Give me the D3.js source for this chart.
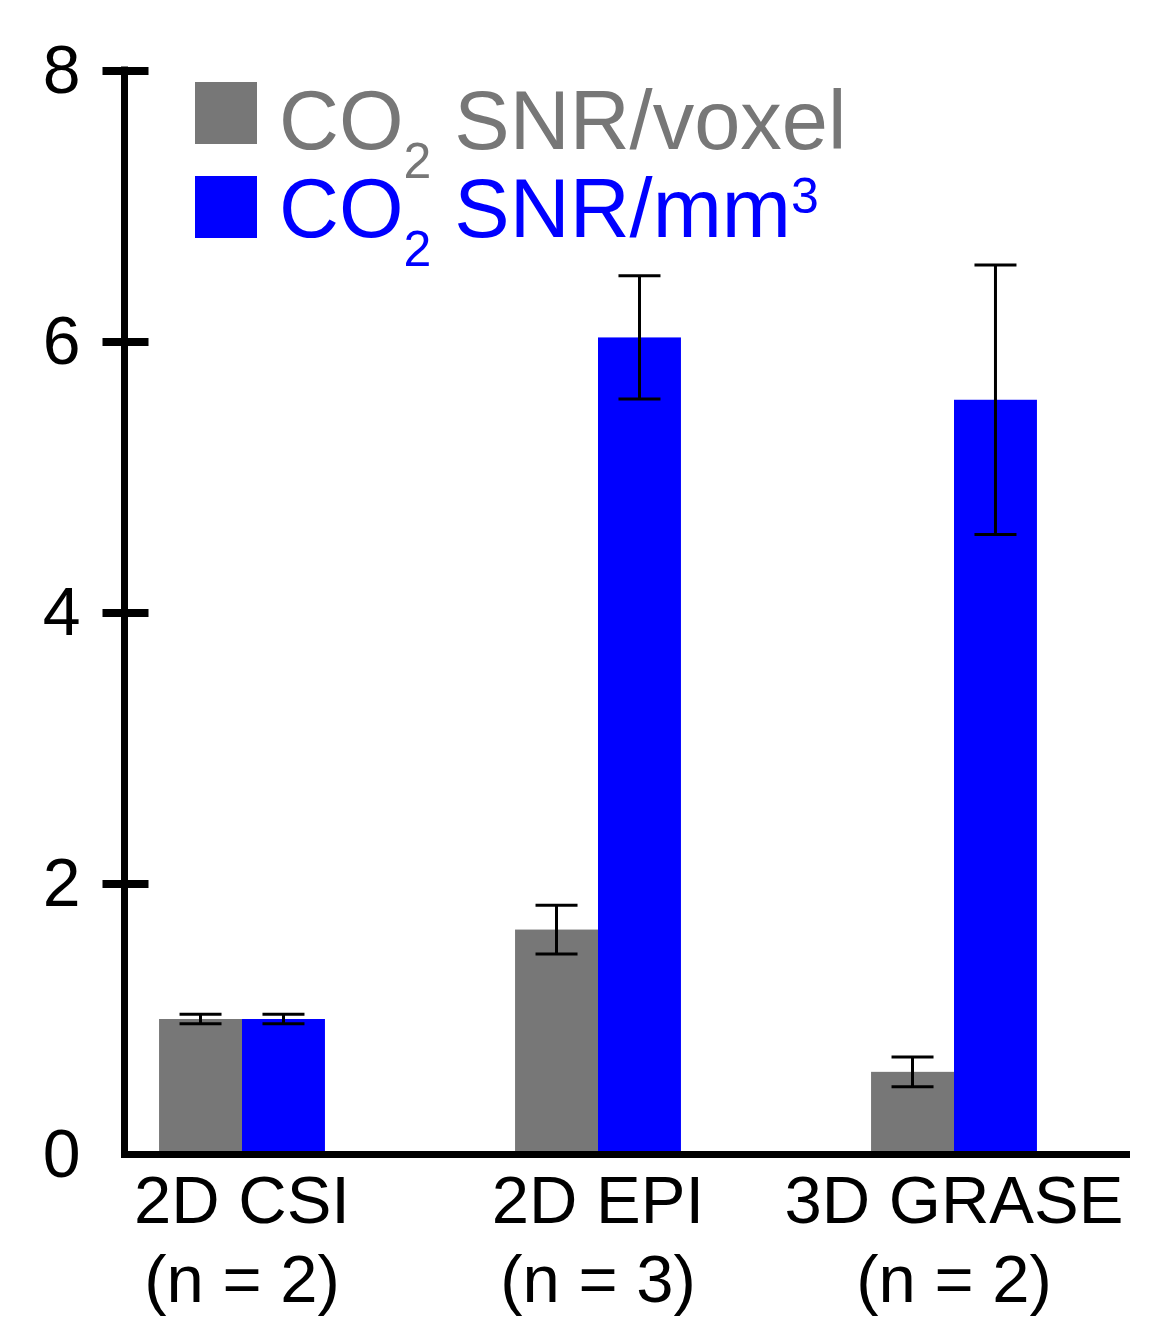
<!DOCTYPE html>
<html>
<head>
<meta charset="utf-8">
<script src="https://cdn.jsdelivr.net/npm/d3@7"></script>
<style>
  body { margin: 0; background: #fff; }
  text { font-family: "Liberation Sans", Arial, sans-serif; }
</style>
</head>
<body>
<svg id="chart" width="1150" height="1337"></svg>
<script>
// data
const methods = ["2D CSI", "2D EPI", "3D GRASE"];
const nLabels = ["(n = 2)", "(n = 3)", "(n = 2)"];
const series = ["voxel", "mm3"];
const snrVoxel = [1.0, 1.66, 0.61];
const snrVoxelErr = [0.035, 0.18, 0.11];
const snrMm3 = [1.0, 6.03, 5.57];
const snrMm3Err = [0.035, 0.455, 0.995];
const yTicks = [0, 2, 4, 6, 8];

const colors = { voxel: "#777777", mm3: "#0000ff" };

const rows = [];
methods.forEach((m, i) => {
  rows.push({ method: m, key: "voxel", val: snrVoxel[i], err: snrVoxelErr[i] });
  rows.push({ method: m, key: "mm3", val: snrMm3[i], err: snrMm3Err[i] });
});

const svg = d3.select("#chart");

const y = d3.scaleLinear().domain([0, 8]).range([1154.5, 70.5]);
const x = d3.scaleBand().domain(methods).range([64, 1132])
  .paddingInner(0.534).paddingOuter(0.267);
const xs = d3.scaleBand().domain(series).range([0, x.bandwidth()]);

const axisX = 124.5;
const axisW = 7;

// bars
svg.append("g")
  .selectAll("rect")
  .data(rows)
  .join("rect")
    .attr("x", d => x(d.method) + xs(d.key))
    .attr("y", d => y(d.val))
    .attr("width", xs.bandwidth())
    .attr("height", d => y(0) - y(d.val))
    .attr("fill", d => colors[d.key]);

// error bars
const capW = 42;
const eb = svg.append("g").attr("stroke", "#000").attr("stroke-width", 3).attr("fill", "none");
rows.forEach(d => {
  const cx = x(d.method) + xs(d.key) + xs.bandwidth() / 2;
  const y1 = y(d.val + d.err), y2 = y(d.val - d.err);
  eb.append("line").attr("x1", cx).attr("x2", cx).attr("y1", y1).attr("y2", y2);
  eb.append("line").attr("x1", cx - capW / 2).attr("x2", cx + capW / 2).attr("y1", y1).attr("y2", y1);
  eb.append("line").attr("x1", cx - capW / 2).attr("x2", cx + capW / 2).attr("y1", y2).attr("y2", y2);
});

// y axis
const yAxis = svg.append("g")
  .attr("transform", `translate(${axisX},0)`)
  .call(d3.axisLeft(y).tickValues(yTicks).tickSize(22).tickPadding(22));
yAxis.select(".domain").remove();
yAxis.selectAll(".tick line")
  .attr("x1", 24).attr("x2", -22)
  .attr("stroke", "#000").attr("stroke-width", 8)
  .filter(d => d === 0).remove();
yAxis.selectAll(".tick text")
  .attr("font-size", 68)
  .attr("fill", "#000")
  .attr("font-family", "Liberation Sans, Arial, sans-serif");

// axis lines
svg.append("line")
  .attr("x1", axisX).attr("x2", axisX)
  .attr("y1", y(8) - 4).attr("y2", y(0) + axisW / 2)
  .attr("stroke", "#000").attr("stroke-width", axisW);
svg.append("line")
  .attr("x1", axisX - axisW / 2).attr("x2", 1130)
  .attr("y1", y(0)).attr("y2", y(0))
  .attr("stroke", "#000").attr("stroke-width", axisW);

// x labels
const xl = svg.append("g").attr("text-anchor", "middle").attr("font-size", 67).attr("fill", "#000");
methods.forEach((m, i) => {
  const cx = x(m) + x.bandwidth() / 2;
  xl.append("text").attr("x", cx).attr("y", 1223).text(m);
  xl.append("text").attr("x", cx).attr("y", 1302).text(nLabels[i]);
});

// legend
const lg = svg.append("g");
lg.append("rect").attr("x", 195).attr("y", 82).attr("width", 62).attr("height", 62).attr("fill", colors.voxel);
lg.append("rect").attr("x", 195).attr("y", 176).attr("width", 62).attr("height", 62).attr("fill", colors.mm3);

const t1 = lg.append("text").attr("x", 279).attr("y", 149).attr("font-size", 83).attr("fill", colors.voxel);
t1.append("tspan").text("CO");
t1.append("tspan").attr("dy", 29).attr("font-size", 50).text("2");
t1.append("tspan").attr("dy", -29).text(" SNR/voxel");

const t2 = lg.append("text").attr("x", 279).attr("y", 237).attr("font-size", 83).attr("fill", colors.mm3);
t2.append("tspan").text("CO");
t2.append("tspan").attr("dy", 29).attr("font-size", 50).text("2");
t2.append("tspan").attr("dy", -29).text(" SNR/mm");
t2.append("tspan").attr("dy", -24).attr("font-size", 50).text("3");
</script>
</body>
</html>
